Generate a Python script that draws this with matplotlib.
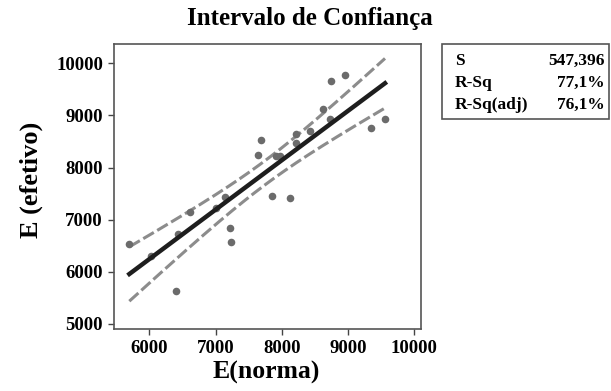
import numpy as np
import matplotlib
matplotlib.use("Agg")
import matplotlib.pyplot as plt

# valores
e_norma = [5698, 6026, 6403, 6433, 6614, 7007, 7143, 7214, 7229, 7636, 7686, 7857,
           7908, 7977, 8124, 8210, 8214, 8426, 8626, 8728, 8747, 8954, 9342, 9558]
e_efetivo = [6531, 6294, 5627, 6723, 7154, 7223, 7435, 6833, 6577, 8237, 8538, 7454,
             8223, 8223, 7415, 8646, 8473, 8692, 9121, 8923, 9660, 9769, 8756, 8923]
stat_names = ["S", "R-Sq", "R-Sq(adj)"]
stat_values = ["547,396", "77,1%", "76,1%"]
x_ticks = [6000, 7000, 8000, 9000, 10000]
y_ticks = [5000, 6000, 7000, 8000, 9000, 10000]

plt.rcParams["font.family"] = "Liberation Serif"
plt.rcParams["font.weight"] = "bold"

x = np.array(e_norma, dtype=float)
y = np.array(e_efetivo, dtype=float)
n = len(x)
b1, b0 = np.polyfit(x, y, 1)
resid = y - (b0 + b1 * x)
s = np.sqrt(np.sum(resid ** 2) / (n - 2))
sxx = np.sum((x - x.mean()) ** 2)
t = 2.074  # t(0.975, 22)
xs = np.linspace(x.min(), x.max(), 200)
fit = b0 + b1 * xs
hw = t * s * np.sqrt(1 / n + (xs - x.mean()) ** 2 / sxx)

fig = plt.figure(figsize=(6.11, 3.91), dpi=100)
ax = fig.add_axes([0.1866, 0.158, 0.5024, 0.7295])

ax.scatter(x, y, s=30, color="#6b6b6b", zorder=3, linewidths=0)
ax.plot(xs, fit, color="#1e1e1e", lw=3.2, zorder=4)
ax.plot(xs, fit + hw, color="#8c8c8c", lw=2.2, dashes=(4, 1.3), zorder=2)
ax.plot(xs, fit - hw, color="#8c8c8c", lw=2.2, dashes=(4, 1.3), zorder=2)

ax.set_xlim(5467, 10101)
ax.set_ylim(4898, 10371)
ax.set_xticks(x_ticks)
ax.set_yticks(y_ticks)
ax.tick_params(direction="out", length=4, width=1, color="#444444", labelsize=13.5, pad=4)
for sp in ax.spines.values():
    sp.set_color("#555555")
    sp.set_linewidth(1.2)

fig.text(0.507, 0.953, "Intervalo de Confiança", ha="center", va="center", fontsize=18, fontweight="bold")
fig.text(0.435, 0.048, "E(norma)", ha="center", va="center", fontsize=18.5, fontweight="bold")
fig.text(0.051, 0.54, "E (efetivo)", ha="center", va="center", rotation=90, fontsize=19, fontweight="bold")

# caixa de estatísticas
box = plt.Rectangle((442 / 611, 1 - 119 / 391), 167 / 611, 75 / 391, transform=fig.transFigure,
                    fill=False, edgecolor="#555555", lw=1.2)
fig.add_artist(box)
for i, (nm, val) in enumerate(zip(stat_names, stat_values)):
    yy = 1 - (61 + 22 * i) / 391
    fig.text(455 / 611, yy, nm, ha="left", va="center", fontsize=12.5, fontweight="bold")
    fig.text(605 / 611, yy, val, ha="right", va="center", fontsize=12.5, fontweight="bold")

fig.savefig("out.png", dpi=100)
